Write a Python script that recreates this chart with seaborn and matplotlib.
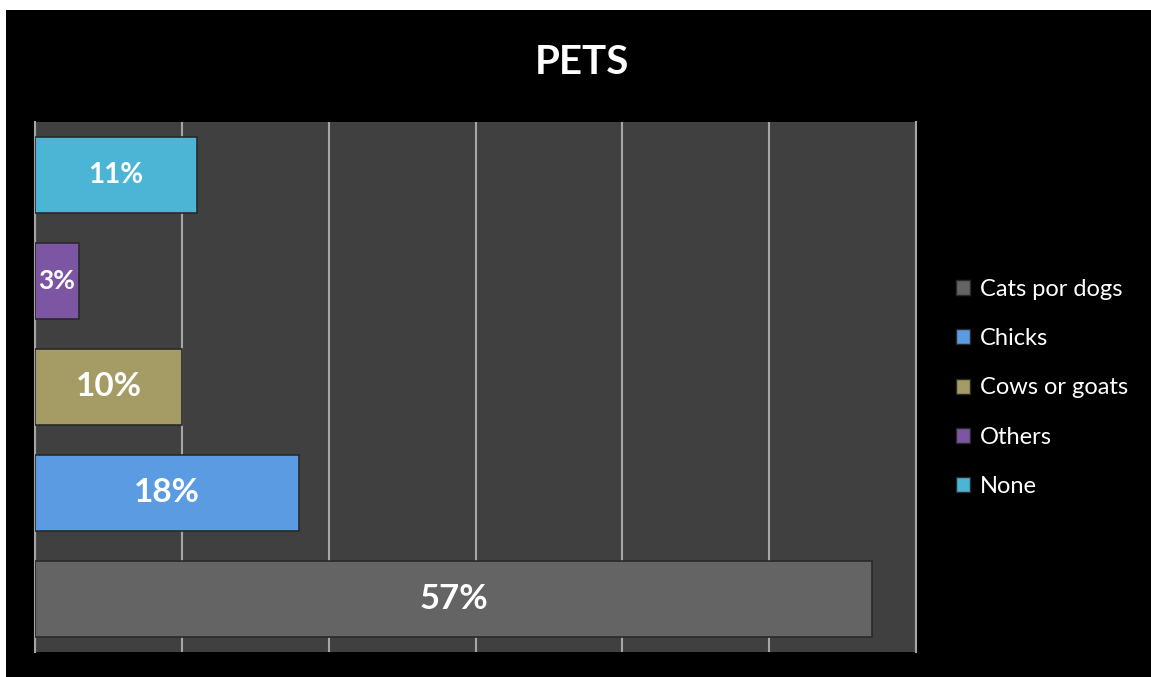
import matplotlib
matplotlib.use('Agg')
import matplotlib.pyplot as plt
from matplotlib.patches import Patch, Rectangle
import pandas as pd
import seaborn as sns

# data, legend order
categories = ['Cats por dogs', 'Chicks', 'Cows or goats', 'Others', 'None']
shares = [0.57, 0.18, 0.10, 0.03, 0.11]
colors = ['#646464', '#5b9be2', '#a59b64', '#7c56a3', '#4cb5d5']
label_sizes = [25, 24, 24, 19, 20]

# bars are drawn top to bottom in reverse legend order
plot_order = categories[::-1]
df = pd.DataFrame({'pet': categories, 'share': shares})
palette = dict(zip(categories, colors))

sns.set_theme(style='dark')
plt.rcParams['font.family'] = ['Lato', 'DejaVu Sans']

fig = plt.figure(figsize=(11.51, 6.77), dpi=100)
fig.patch.set_facecolor('white')
# black chart area with thin white margin at top/left
fig.patches.append(Rectangle((6 / 1151, 0), 1 - 6 / 1151, 1 - 10 / 677,
                             transform=fig.transFigure, facecolor='black',
                             edgecolor='none', zorder=-10))

ax = fig.add_axes([35 / 1151, 25 / 677, 881 / 1151, 530 / 677])
ax.set_facecolor('#404040')

sns.barplot(data=df, x='share', y='pet', hue='pet', order=plot_order,
            hue_order=categories, palette=palette, dodge=False, width=0.72,
            orient='h', legend=False, saturation=1, ax=ax,
            edgecolor='#2a2a2a', linewidth=1.2, zorder=3)

ax.set_xlim(0, 0.6)
ax.set_xticks([0.1 * i for i in range(7)])
ax.grid(axis='x', color='#a6a6a6', linewidth=1.5, zorder=0)
ax.grid(axis='y', visible=False)
ax.set_axisbelow(True)
ax.set_xticklabels([])
ax.set_yticklabels([])
ax.tick_params(length=0)
ax.set_xlabel('')
ax.set_ylabel('')
for side in ['top', 'bottom']:
    ax.spines[side].set_visible(False)
for side in ['left', 'right']:
    ax.spines[side].set_color('#a6a6a6')
    ax.spines[side].set_linewidth(1.5)

# value labels centred in bars
for cat, val, size in zip(categories, shares, label_sizes):
    ypos = plot_order.index(cat)
    ax.text(val / 2, ypos, f'{round(val * 100)}%', ha='center', va='center',
            color='white', fontsize=size, fontweight='bold', zorder=5)

fig.text(582 / 1151, 1 - 62 / 677, 'PETS', ha='center', va='center',
         color='white', fontsize=29, fontweight='bold')

handles = [Patch(facecolor=c, edgecolor='#2a2a2a', label=l)
           for l, c in zip(categories, colors)]
leg = fig.legend(handles=handles, loc='center left',
                 bbox_to_anchor=(935 / 1151, 1 - 388 / 677), frameon=False,
                 fontsize=17, labelcolor='white', handlelength=0.6,
                 handleheight=0.6, handletextpad=0.4, labelspacing=1.2)

fig.savefig('out.png', dpi=100, facecolor=fig.get_facecolor())
